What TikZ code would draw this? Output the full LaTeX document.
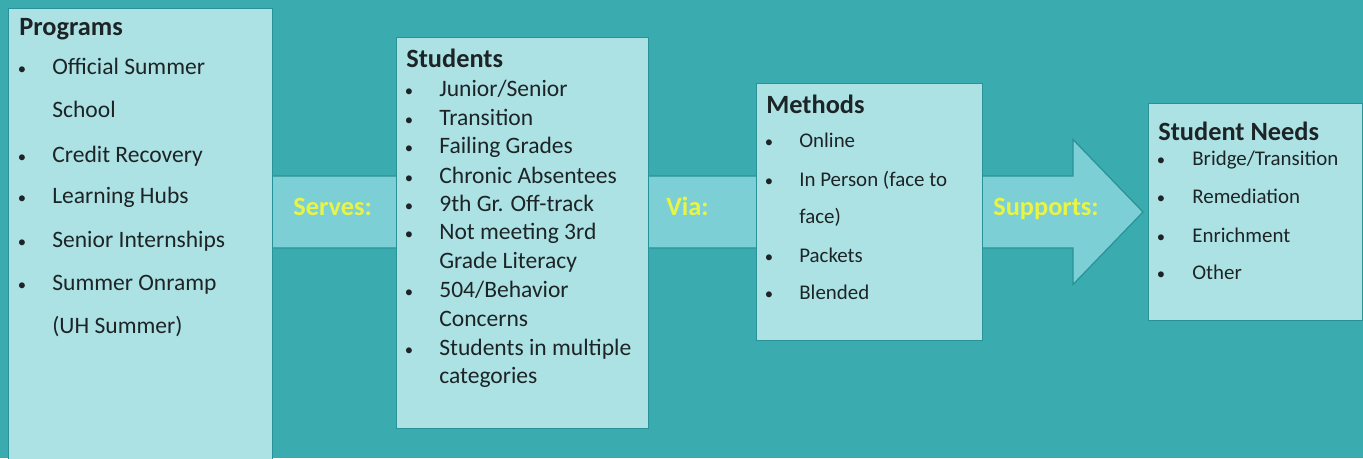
\documentclass[tikz,border=0pt]{standalone}
\usepackage{fontspec}
\setmainfont{Carlito}
\usetikzlibrary{calc}

\definecolor{sea}{RGB}{58,172,176}
\definecolor{pale}{RGB}{173,226,229}
\definecolor{band}{RGB}{124,207,212}
\definecolor{rim}{RGB}{40,146,152}
\definecolor{ink}{RGB}{28,36,38}
\definecolor{tagyellow}{RGB}{232,244,70}

\tikzset{
    panel/.style={draw=rim, line width=0.7pt, fill=pale, anchor=north west, inner sep=0pt},
    head/.style={anchor=base west, inner sep=0pt, text=ink, font=\bfseries\fontsize{15}{18}\selectfont},
    big/.style={anchor=base west, inner sep=0pt, text=ink, font=\fontsize{13.4}{16}\selectfont},
    small/.style={anchor=base west, inner sep=0pt, text=ink, font=\fontsize{11.9}{14}\selectfont},
    dot/.style={anchor=base, inner sep=0pt, text=ink, font=\fontsize{9.5}{11}\selectfont},
    tag/.style={anchor=base west, inner sep=0pt, text=tagyellow, font=\bfseries\fontsize{15}{18}\selectfont}
}

\begin{document}
\begin{tikzpicture}[x=0.02cm, y=-0.02cm]
    \useasboundingbox (0,0) rectangle (1363,458);
    \fill[sea] (0,0) rectangle (1363,458);

    % one long arrow behind the four panels
    \coordinate (tail) at (100,212);
    \coordinate (tip) at (1143,212);
    \draw[rim, fill=band, line width=0.7pt]
        ($(tail)+(0,-36)$) -- ($(tip)+(-70,-36)$) -- ($(tip)+(-70,-72.5)$) -- (tip)
        -- ($(tip)+(-70,72.5)$) -- ($(tip)+(-70,36)$) -- ($(tail)+(0,36)$) -- cycle;

    \node[panel, minimum width=5.28cm, minimum height=9.6cm] (programs) at (8,8) {};
    \node[panel, minimum width=5.04cm, minimum height=7.82cm] (students) at (396,37) {};
    \node[panel, minimum width=4.52cm, minimum height=5.14cm] (methods) at (756,83) {};
    \node[panel, minimum width=4.28cm, minimum height=4.34cm] (needs) at (1148,103) {};

    \node[tag] (serves) at (293,215) {Serves:};
    \node[tag] (via) at (666,215) {Via:};
    \node[tag] (supports) at (993,215) {Supports:};

    % programs
    \node[head] (programs-title) at (19,35) {Programs};
    \foreach \y/\t [count=\i] in {74/Official Summer, 117/School, 162/Credit Recovery,
        203/Learning Hubs, 247/Senior Internships, 290/Summer Onramp, 333/(UH Summer)}
        \node[big] (programs-\i) at (52,\y) {\t};
    \foreach \y [count=\i] in {74,162,203,247,290}
        \node[dot] (programs-dot-\i) at (22,\y) {•};

    % students
    \node[head] (students-title) at (406,67) {Students};
    \foreach \y/\t [count=\i] in {96/{Junior/Senior}, 125/Transition, 153/Failing Grades,
        183/Chronic Absentees, 211/9th Gr. Off-track, 239/Not meeting 3rd,
        268/Grade Literacy, 297/{504/Behavior}, 326/Concerns,
        355/Students in multiple, 383/categories}
        \node[big] (students-\i) at (439,\y) {\t};
    \foreach \y [count=\i] in {96,125,153,183,211,239,297,355}
        \node[dot] (students-dot-\i) at (409,\y) {•};

    % methods
    \node[head] (methods-title) at (766,113) {Methods};
    \foreach \y/\t [count=\i] in {147/Online, 186/In Person (face to, 223/face),
        262/Packets, 299/Blended}
        \node[small] (methods-\i) at (799,\y) {\t};
    \foreach \y [count=\i] in {147,186,262,299}
        \node[dot] (methods-dot-\i) at (769,\y) {•};

    % student needs
    \node[head] (needs-title) at (1158,140) {Student Needs};
    \foreach \y/\t [count=\i] in {165/{Bridge/Transition}, 203/Remediation,
        242/Enrichment, 279/Other}
        \node[small] (needs-\i) at (1192,\y) {\t};
    \foreach \y [count=\i] in {165,203,242,279}
        \node[dot] (needs-dot-\i) at (1161,\y) {•};
\end{tikzpicture}
\end{document}
